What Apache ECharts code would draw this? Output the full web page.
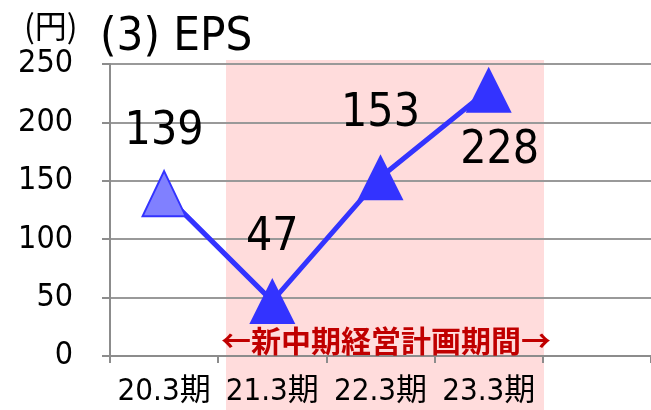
<!DOCTYPE html>
<html lang="en">
  <head>
    <meta charset="UTF-8" />
    <title>EPS chart</title>
    <script src="https://cdn.jsdelivr.net/npm/echarts@6.0.0/dist/echarts.min.js"></script>
    <style>
      html, body { margin: 0; padding: 0; background: #fff; }
      #main { width: 651px; height: 410px; }
    </style>
  </head>
  <body>
    <div id="main"></div>
    <script>
      // categories (last slot empty, as in the original layout)
      const periods = ['20.3期', '21.3期', '22.3期', '23.3期', ''];
      const eps = [139, 47, 153, 228];
      const yTicks = [0, 50, 100, 150, 200, 250];

      const narrow = '"Liberation Sans Narrow", "DejaVu Sans Condensed", "Noto Sans CJK JP", sans-serif';
      const cjk = '"Noto Sans CJK JP", sans-serif';

      const labelOffsets = [[0, -62], [0, -63], [0, -63], [11, 61]];

      var myChart = echarts.init(document.getElementById('main'));

      const options = {
        animation: false,
        grid: { left: 110, top: 64, bottom: 54, right: -7 },
        graphic: [
          {
            type: 'rect',
            z: -10,
            silent: true,
            shape: { x: 226, y: 60, width: 318, height: 350 },
            style: { fill: '#ffdcdc' },
          },
          {
            type: 'text',
            left: 100,
            top: 14,
            style: { text: '(3) EPS', fontSize: 47, fontFamily: narrow, fill: '#000' },
          },
          {
            type: 'text',
            left: 24,
            top: 10,
            style: { text: '(円)', fontSize: 32, fontFamily: cjk, fill: '#000' },
          },
          {
            type: 'text',
            z: 10,
            style: {
              text: '←新中期経営計画期間→',
              x: 386,
              y: 341,
              align: 'center',
              verticalAlign: 'middle',
              fontSize: 30,
              fontWeight: 'bold',
              fontFamily: cjk,
              fill: '#c00000',
            },
          },
        ],
        xAxis: {
          type: 'category',
          data: periods,
          axisLine: { lineStyle: { color: '#8c8c8c', width: 2 } },
          axisTick: { show: true, length: 7, lineStyle: { color: '#8c8c8c', width: 2 } },
          axisLabel: { interval: 0, hideOverlap: false, margin: 20, fontFamily: narrow, fontSize: 31, color: '#000' },
        },
        yAxis: {
          type: 'value',
          min: yTicks[0],
          max: yTicks[yTicks.length - 1],
          interval: yTicks[1] - yTicks[0],
          axisLine: { show: true, lineStyle: { color: '#8c8c8c', width: 2 } },
          axisTick: { show: true, length: 8, lineStyle: { color: '#8c8c8c', width: 2 } },
          splitLine: { lineStyle: { color: '#999', width: 2 } },
          axisLabel: { margin: 37, fontFamily: narrow, fontSize: 32, color: '#000' },
        },
        series: [
          {
            type: 'line',
            symbol: 'triangle',
            symbolSize: 46,
            lineStyle: { color: '#3333ff', width: 5 },
            itemStyle: { color: '#3333ff' },
            data: eps.map((v, i) => ({
              value: v,
              symbolSize: i === 0 ? [43, 45] : 46,
              itemStyle: i === 0 ? { color: '#8080ff', borderColor: '#3333ff', borderWidth: 2 } : undefined,
              label: {
                show: true,
                position: 'inside',
                offset: labelOffsets[i],
                fontFamily: narrow,
                fontSize: 46,
                color: '#000',
              },
            })),
          },
        ],
      };

      myChart.setOption(options);
    </script>
  </body>
</html>
